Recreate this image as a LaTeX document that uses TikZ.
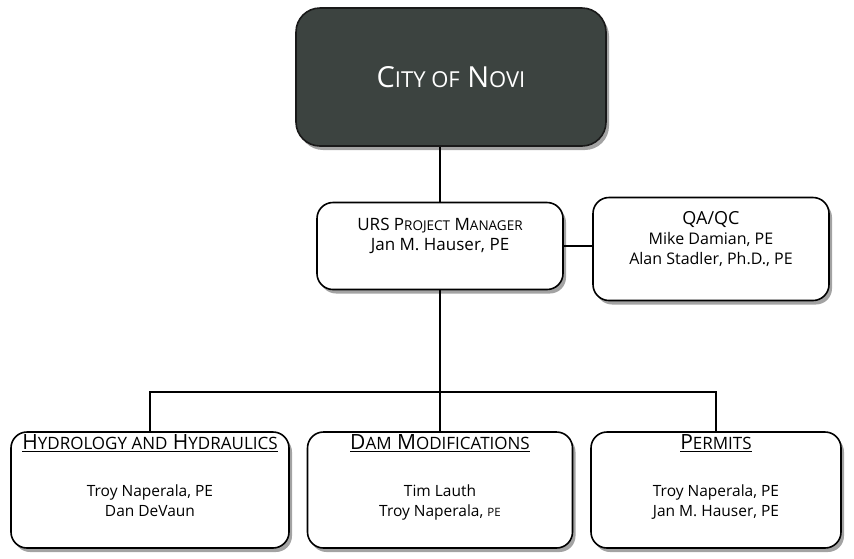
\documentclass[tikz,border=0pt]{standalone}
\usepackage{fontspec}
\setmainfont{Open Sans}
\usetikzlibrary{positioning,shadows}

\definecolor{citygray}{RGB}{60,67,64}

% fake small capitals: size, text
\newcommand{\smcap}[2]{{\fontsize{#1}{#1}\selectfont #2}}

\tikzset{
  orgbox/.style = {draw, line width=1.6pt, rounded corners=16pt, fill=white,
                   drop shadow={shadow xshift=3pt, shadow yshift=-4pt, fill=black!60, opacity=0.6}},
  citybox/.style = {orgbox, fill=citygray, draw=black!90, rounded corners=24pt,
                    text=white, font=\fontsize{29}{32}\selectfont},
  headtext/.style = {inner sep=0pt, anchor=base, font=\fontsize{21}{21}\selectfont},
  nametext/.style = {align=center, inner sep=0pt, anchor=north, font=\fontsize{15.5}{20}\selectfont},
}

\begin{document}
\begin{tikzpicture}[x=1pt, y=-1pt, >=stealth, line width=1.4pt]
  \useasboundingbox (0,0) rectangle (854,558);

  \node[citybox, minimum width=310pt, minimum height=138pt] (city) at (451,77)
       {C\smcap{22}{ITY OF} N\smcap{22}{OVI}};

  \node[orgbox, minimum width=246pt, minimum height=87pt, align=center,
        font=\fontsize{17}{20}\selectfont] (pm) at (440,246)
       {URS P\smcap{13.5}{ROJECT} M\smcap{13.5}{ANAGER}\\Jan M. Hauser, PE\\[4pt]};
  \node[orgbox, minimum width=236pt, minimum height=103pt, align=center,
        font=\fontsize{16}{20}\selectfont] (qa) at (711,249)
       {\fontsize{18}{20}\selectfont QA/QC\\Mike Damian, PE\\Alan Stadler, Ph.D., PE\\[2pt]};

  \node[orgbox, minimum width=278pt, minimum height=116pt] (hyd) at (150,490) {};
  \node[orgbox, minimum width=265pt, minimum height=116pt] (dam) at (440,490) {};
  \node[orgbox, minimum width=250pt, minimum height=116pt] (per) at (716,490) {};

  \node[headtext] (hydhead) at ([yshift=-18pt]hyd.north)
       {\underline{H\smcap{17}{YDROLOGY AND} H\smcap{17}{YDRAULICS}}};
  \node[nametext] (hydnames) at ([yshift=-53pt]hyd.north) {Troy Naperala, PE\\Dan DeVaun};
  \node[headtext] (damhead) at ([yshift=-18pt]dam.north)
       {\underline{D\smcap{17}{AM} M\smcap{17}{ODIFICATIONS}}};
  \node[nametext] (damnames) at ([yshift=-53pt]dam.north) {Tim Lauth\\Troy Naperala, \smcap{11.5}{PE}};
  \node[headtext] (perhead) at ([yshift=-18pt]per.north)
       {\underline{P\smcap{17}{ERMITS}}};
  \node[nametext] (pernames) at ([yshift=-53pt]per.north) {Troy Naperala, PE\\Jan M. Hauser, PE};

  % connectors
  \coordinate (bus) at (440,392);
  \draw (city.south -| pm.north) -- (pm.north);
  \draw (pm.east) -- (qa.west |- pm.east);
  \draw (pm.south) -- (bus);
  \draw (hyd.north) |- (bus) -| (per.north);
  \draw (dam.north) -- (bus);
\end{tikzpicture}
\end{document}
